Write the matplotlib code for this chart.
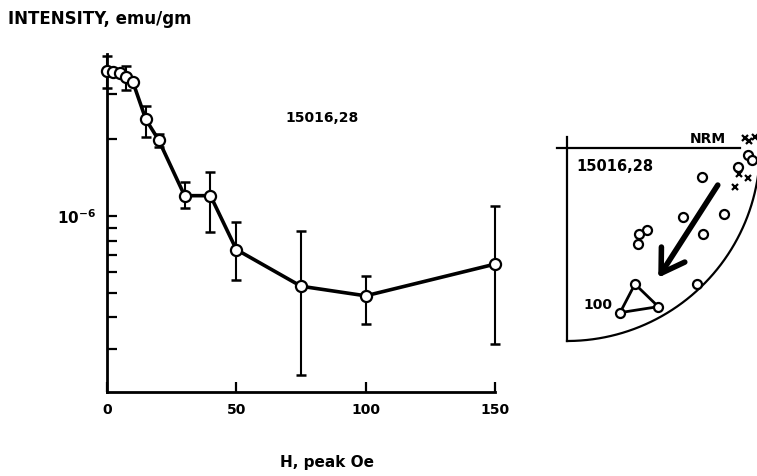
import numpy as np
import matplotlib
matplotlib.use('Agg')
import matplotlib.pyplot as plt
from matplotlib.ticker import FixedLocator, NullFormatter

# AF demagnetization of sample 15016,28
field_oe = [0, 2.5, 5, 7.5, 10, 15, 20, 30, 40, 50, 75, 100, 150]
intensity = [3.70e-6, 3.66e-6, 3.62e-6, 3.51e-6, 3.35e-6, 2.39e-6, 1.98e-6,
             1.20e-6, 1.20e-6, 0.738e-6, 0.530e-6, 0.486e-6, 0.647e-6]

# error bars (only drawn for some steps)
err_field = [0, 7.5, 15, 20, 30, 40, 50, 75, 100, 150]
err_low = [3.17e-6, 3.11e-6, 2.03e-6, 1.86e-6, 1.07e-6, 0.865e-6,
           0.563e-6, 0.237e-6, 0.378e-6, 0.314e-6]
err_high = [4.23e-6, 3.86e-6, 2.69e-6, 2.10e-6, 1.36e-6, 1.48e-6,
            0.945e-6, 0.871e-6, 0.582e-6, 1.09e-6]

x_ticks = [0, 50, 100, 150]
y_major = [1e-6]
y_minor = [3e-7, 4e-7, 5e-7, 6e-7, 7e-7, 8e-7, 9e-7, 2e-6, 3e-6]

# stereonet quadrant, projected coordinates (unit radius)
net_circ_x = [0.698, 0.603, 0.813, 0.706, 0.416, 0.375, 0.369, 0.672,
              0.884, 0.939, 0.957]
net_circ_y = [-0.149, -0.356, -0.342, -0.446, -0.425, -0.447, -0.497,
              -0.705, -0.097, -0.036, -0.062]
net_tri_x = [0.352, 0.275, 0.473]
net_tri_y = [-0.705, -0.853, -0.822]
net_cross_x = [0.922, 0.945, 0.974, 0.891, 0.870, 0.939]
net_cross_y = [0.050, 0.038, 0.057, -0.135, -0.201, -0.157]
arrow_start = (0.789, -0.180)
arrow_end = (0.465, -0.684)

plt.rcParams['font.family'] = ['DejaVu Sans']
plt.rcParams['font.weight'] = 'bold'

fig = plt.figure(figsize=(7.57, 4.76), dpi=100)
ax = fig.add_axes([107 / 757, 1 - 392 / 476, 388 / 757, 338 / 476])

mid = [np.sqrt(l * h) for l, h in zip(err_low, err_high)]
ax.errorbar(err_field, mid,
            yerr=[[m - l for m, l in zip(mid, err_low)],
                  [h - m for m, h in zip(mid, err_high)]],
            fmt='none', ecolor='black', elinewidth=1.5, capsize=3.5,
            capthick=1.8, zorder=2, clip_on=False)
ax.plot(field_oe, intensity, '-', color='black', linewidth=2.6, zorder=3,
        clip_on=False)
ax.plot(field_oe, intensity, 'o', color='black', markerfacecolor='white',
        markersize=8, markeredgewidth=1.6, zorder=4, clip_on=False)

ax.set_yscale('log')
ax.set_xlim(0, 150)
ax.set_ylim(0.204e-6, 4.31e-6)
ax.yaxis.set_major_locator(FixedLocator(y_major))
ax.yaxis.set_minor_locator(FixedLocator(y_minor))
ax.yaxis.set_minor_formatter(NullFormatter())
ax.set_yticklabels([r'$\mathbf{10^{-6}}$'])
ax.set_xticks(x_ticks)
ax.set_xticklabels([str(t) for t in x_ticks])

for side in ('top', 'right'):
    ax.spines[side].set_visible(False)
for side in ('left', 'bottom'):
    ax.spines[side].set_linewidth(2)
ax.tick_params(which='both', direction='in', length=7, width=1.6,
               labelsize=10, pad=8)
ax.tick_params(axis='y', labelsize=11)

fig.text(8 / 757, 1 - 19 / 476, 'INTENSITY, emu/gm', fontsize=12,
         fontweight='bold', va='center', ha='left')
fig.text(322 / 757, 1 - 118 / 476, '15016,28', fontsize=10,
         fontweight='bold', va='center', ha='center')
fig.text(327 / 757, 1 - 462 / 476, 'H, peak Oe', fontsize=11,
         fontweight='bold', va='center', ha='center')

# stereonet inset
net = fig.add_axes([550 / 757, 1 - 345 / 476, 207 / 757, 225 / 476])
net.set_xlim((550 - 567) / 193, (757 - 567) / 193)
net.set_ylim((148 - 345) / 193, (148 - 120) / 193)
net.axis('off')

theta = np.linspace(0, -np.pi / 2, 200)
net.plot(np.cos(theta), np.sin(theta), color='black', linewidth=1.6,
         clip_on=False)
net.plot([-0.052, 0.896], [0, 0], color='black', linewidth=1.6)
net.plot([0, 0], [0.057, -1], color='black', linewidth=1.6)

net.plot(net_tri_x + net_tri_x[:1], net_tri_y + net_tri_y[:1], '-',
         color='black', linewidth=2, zorder=3)
net.plot(net_circ_x + net_tri_x, net_circ_y + net_tri_y, 'o', color='black',
         markerfacecolor='white', markersize=6.5, markeredgewidth=1.6,
         zorder=4, clip_on=False)
net.plot(net_cross_x, net_cross_y, 'x', color='black', markersize=5,
         markeredgewidth=1.6, zorder=4, clip_on=False)
net.annotate('', xy=arrow_end, xytext=arrow_start,
             arrowprops=dict(arrowstyle='->,head_length=0.8,head_width=0.5',
                             color='black', linewidth=4, mutation_scale=20))

net.text(0.731, 0.046, 'NRM', fontsize=10, fontweight='bold',
         ha='center', va='center')
net.text(0.047, -0.098, '15016,28', fontsize=10.5, fontweight='bold',
         ha='left', va='center')
net.text(0.233, -0.813, '100', fontsize=10, fontweight='bold',
         ha='right', va='center')

fig.savefig('out.png', dpi=100)
